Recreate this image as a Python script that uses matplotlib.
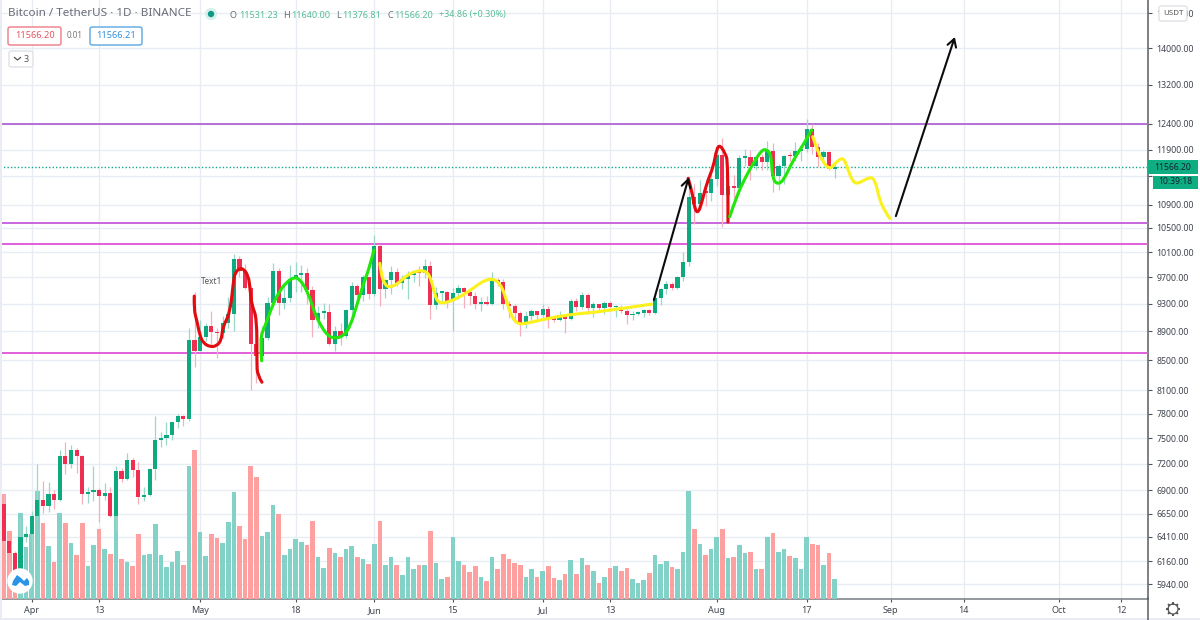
import numpy as np
import pandas as pd
import matplotlib
matplotlib.use("Agg")
import matplotlib.pyplot as plt
import matplotlib.dates as mdates
from matplotlib.patches import FancyBboxPatch, Circle, Polygon, Rectangle, PathPatch
from matplotlib.path import Path
from matplotlib.ticker import FixedLocator, FuncFormatter, NullLocator

plt.rcParams['font.family'] = ['Noto Sans', 'DejaVu Sans']

start_date = '2020-03-27'
opens = [6750,6360,6240,5880,6410,6440,6620,6795,6735,6860,6790,7290,7195,7365,7285,6860,6880,6910,6840,6870,
         6620,7115,7030,7250,7125,6830,6855,7135,7480,7505,7540,7695,7775,7735,8780,8620,8825,8970,8890,8870,
         9025,9145,9985,9800,9540,8720,8560,8810,9310,9795,9315,9380,9680,9735,9775,9510,9065,9170,9180,8720,
         8900,8840,9205,9575,9430,9700,9450,10200,9520,9665,9790,9620,9670,9745,9780,9770,9885,9280,9465,9475,
         9340,9455,9540,9480,9410,9290,9330,9300,9650,9630,9290,9260,9160,9010,9115,9190,9135,9230,9085,9060,
         9135,9070,9340,9255,9435,9235,9290,9235,9305,9245,9255,9195,9130,9155,9170,9210,9160,9390,9520,9600,
         9535,9700,9935,11030,10905,11115,11105,11350,11800,11070,11220,11190,11745,11760,11595,11755,11675,11880,11410,11585,
         11785,11770,11865,11910,12300,11950,11755,11855,11531.23]
highs = [6860,6370,6260,6600,6520,6680,7200,7000,6990,6910,7360,7450,7420,7380,7300,6940,7180,6930,6980,6940,
         7170,7150,7320,7270,7220,6940,7150,7770,7580,7700,7700,7800,7780,8950,9470,9060,9015,9200,8950,9120,
         9395,10067,10035,9915,9575,9170,8980,9400,9930,9845,9580,9890,9950,9900,9840,9570,9270,9310,9300,8975,
         9020,9225,9625,9605,9740,9700,10380,10230,9680,9880,9855,9735,9800,9800,9880,9990,9965,9560,9490,9495,
         9540,9580,9560,9490,9480,9395,9415,9780,9690,9680,9340,9300,9200,9190,9230,9200,9290,9270,9125,9195,
         9145,9375,9380,9480,9460,9320,9300,9345,9345,9280,9275,9230,9190,9200,9225,9220,9430,9540,9650,9625,
         9730,10110,11400,11270,11340,11170,11450,11860,12125,11475,11425,11790,11915,11900,11805,11810,12070,12025,11630,11790,
         11850,12050,11935,12490,12400,12020,11885,11880,11640.00]
lows = [6320,6060,5870,5860,6350,6150,6580,6660,6670,6700,6780,7080,7150,7100,6750,6760,6780,6560,6800,6610,
        6470,6990,7020,7050,6750,6780,6835,7020,7400,7420,7480,7620,7650,7710,8400,8620,8760,8700,8530,8800,
        8940,8900,9700,9520,8100,8200,8520,8780,9260,9130,9220,9330,9470,9475,9300,8815,8940,9080,8700,8630,
        8700,8810,9110,9330,9340,9375,9420,9266,9390,9450,9570,9530,9375,9630,9570,9690,9080,9230,9330,9240,
        8900,9375,9240,9280,9220,9200,9280,9280,9575,9220,9090,9050,8830,8940,9030,9070,9080,8940,9040,9050,
        8880,9055,9200,9230,9150,9110,9190,9150,9200,9110,9160,9000,9060,9135,9100,9130,9145,9280,9450,9510,
        9530,9650,9880,10560,10830,10870,10960,11220,10518,10950,11015,11090,11590,11330,11520,11520,11520,11125,11150,11270,
        11680,11680,11690,11850,11825,11570,11670,11510,11376.81]
closes = [6360,6240,5880,6410,6440,6620,6795,6735,6860,6790,7290,7195,7365,7285,6860,6880,6910,6840,6870,6620,
          7115,7030,7250,7125,6830,6855,7135,7480,7505,7540,7695,7775,7735,8780,8620,8825,8970,8890,8870,9025,
          9145,9985,9800,9540,8720,8560,8810,9310,9795,9315,9380,9680,9735,9775,9510,9065,9170,9180,8720,8900,
          8840,9205,9575,9430,9700,9450,10200,9520,9665,9790,9620,9670,9745,9780,9770,9885,9280,9465,9475,9340,
          9455,9540,9480,9410,9290,9330,9300,9650,9630,9290,9260,9160,9010,9115,9190,9135,9230,9085,9060,9135,
          9070,9340,9255,9435,9235,9290,9235,9305,9245,9255,9195,9130,9155,9170,9210,9160,9390,9520,9600,9535,
          9700,9935,11030,10905,11105,11105,11350,11800,11070,11220,11190,11745,11760,11595,11755,11675,11880,11410,11585,11785,
          11770,11865,11910,12300,11950,11755,11855,11531,11566.20]
volumes = [105,68,45,86,52,65,108,76,53,37,86,76,56,44,76,33,54,70,50,45,
           90,40,37,33,65,44,45,75,44,32,37,48,34,133,149,67,43,65,61,56,
           77,107,73,60,133,122,63,67,94,85,44,50,60,57,54,78,42,31,51,46,
           42,50,53,42,40,35,55,78,34,42,34,24,42,30,34,34,68,36,20,22,
           62,38,34,27,33,22,18,42,30,45,40,36,34,22,30,22,28,33,21,19,
           25,39,25,41,34,28,16,22,31,33,28,31,20,16,19,26,44,35,38,32,
           30,47,108,70,55,44,50,62,70,41,42,54,46,47,30,30,62,66,47,50,
           43,41,30,62,55,54,34,46,20]

price_ticks = [14800,14000,13200,12400,11900,11400,10900,10500,10100,9700,9300,8900,8500,8100,7800,7500,7200,6900,6650,6410,6160,5940]
hidden_price_labels = [11400]
date_ticks = ['2020-04-01','2020-04-13','2020-05-01','2020-05-18','2020-06-01','2020-06-15','2020-07-01','2020-07-13',
              '2020-08-01','2020-08-17','2020-09-01','2020-09-14','2020-10-01','2020-10-12']
date_labels = ['Apr','13','May','18','Jun','15','Jul','13','Aug','17','Sep','14','Oct','12']
level_prices = [12388, 10585, 10226, 8599]
level_colors = ['#b56fd6', '#c867dc', '#e05fd8', '#e05fd8']
last_price = 11566.20

# Freehand drawings: days after 1 Apr 2020, price
red1_days = [28.95,28.9,29.4,29.97,30.6,31.7,32.9,33.8,34.0,35.3,35.9,36.2,37.4,38.6,38.9,39.2,40.1,40.1,40.2,41.0]
red1_prices = [9415,9206,9060,8831,8733,8682,8691,8775,8959,9161,9613,9784,9862,9735,9506,9280,9089,8458,8297,8204]
green1_days = [40.95,40.65,41.5,42.7,43.9,45.4,46.9,47.8,48.65,49.55,50.4,51.6,52.8,54.0,55.5,56.7,57.9,59.0,60.2,60.95]
green1_prices = [8490,8803,8964,9236,9460,9632,9710,9659,9556,9385,9161,8964,8831,8799,8831,8964,9280,9582,9867,10134]
yellow1_days = [62.0,62.2,62.9,63.8,65.3,66.8,68.55,70.3,71.2,71.8,72.4,73.9,76.3,78.6,80.4,82.1,83.4,84.3,85.2,86.4,88.1,90.5,94.1,97.6,101.2,110.4]
yellow1_prices = [9921,9763,9582,9546,9608,9735,9804,9804,9659,9429,9314,9314,9404,9531,9647,9685,9608,9429,9157,9002,9012,9060,9118,9157,9181,9295]
red2_days = [116.9,117.5,118.1,118.7,119.3,120.2,121.4,122.0,122.6,123.5,124.0,124.0]
red2_prices = [11365,11184,10804,10757,10920,11274,11578,11924,11987,11829,11672,10600]
green2_days = [124.3,125.5,127.0,128.5,130.0,130.9,131.7,131.9,132.6,133.8,135.6,137.4,138.9]
green2_prices = [10689,11036,11365,11641,11892,11905,11798,11395,11262,11304,11703,11987,12279]
yellow2_days = [139.1,139.8,140.7,142.1,143.3,144.5,145.1,146.3,147.5,149.3,150.2,151.0,152.0,152.8]
yellow2_prices = [12148,11924,11703,11518,11672,11753,11610,11274,11285,11395,11335,10978,10775,10661]
arrow1_days = [110.8,117.0]
arrow1_prices = [9355,11380]
arrow2_days = [153.9,164.4]
arrow2_prices = [10700,14249]

UP, DOWN = '#0fa97f', '#ee2f52'
VUP, VDOWN = '#82d2c8', '#ffa0a0'
GRID = '#e8edf3'
INK = '#3f444e'

fig = plt.figure(figsize=(12, 6.2), dpi=100, facecolor='white')
rect = [0, 21.5/620, 1148/1200, 598.5/620]
ax = fig.add_axes(rect, zorder=0)
vol_ax = fig.add_axes(rect, zorder=1, sharex=ax)
price_ax = fig.add_axes(rect, zorder=2, sharex=ax, sharey=ax)

origin = mdates.date2num(pd.Timestamp('2020-04-01'))
dates = mdates.date2num(pd.date_range(start_date, periods=len(closes)))
o, h, l, c = map(np.array, (opens, highs, lows, closes))
up = c >= o

ax.set_yscale('log')
ax.set_ylim(5805, 15117)
ax.set_xlim(origin - 5.645, origin + 198.8)
ax.yaxis.set_major_locator(FixedLocator(price_ticks))
ax.yaxis.set_minor_locator(NullLocator())
ax.yaxis.set_major_formatter(FuncFormatter(lambda v, _: '' if round(v) in hidden_price_labels else f'{v:.2f}'))
ax.yaxis.tick_right()
ax.set_xticks(mdates.date2num(pd.to_datetime(date_ticks)))
ax.set_xticklabels(date_labels)
ax.tick_params(axis='y', length=3, width=0.8, color='#555', labelcolor=INK, labelsize=6.3, pad=3)
ax.tick_params(axis='x', length=2.2, width=0.8, color='#555', labelcolor=INK, labelsize=6.5, pad=3)
ax.grid(True, color=GRID, lw=1)
ax.set_axisbelow(True)
for s in ('top', 'left'):
    ax.spines[s].set_visible(False)
ax.spines['right'].set_color('#5a5d64')
ax.spines['bottom'].set_color('#777a80')
ax.spines['right'].set_linewidth(1.1)
ax.spines['bottom'].set_linewidth(1.1)

vol_ax.set_ylim(0, 598.5)
vol_ax.axis('off')
vol_ax.patch.set_visible(False)
vol_ax.bar(dates, volumes, width=0.82, color=[VUP if u else VDOWN for u in up], linewidth=0)

price_ax.axis('off')
price_ax.patch.set_visible(False)
for p, col in zip(level_prices, level_colors):
    price_ax.axhline(p, color=col, lw=1.4, zorder=1)
price_ax.axhline(last_price, color='#14a98a', lw=1, ls=(0, (1, 1.5)), zorder=1)

price_ax.vlines(dates[up], l[up], h[up], color='#9cd8c9', lw=0.9, zorder=2)
price_ax.vlines(dates[~up], l[~up], h[~up], color='#f6b0bd', lw=0.9, zorder=2)
bottoms = np.minimum(o, c)
tops = np.maximum(o, c)
min_tops = np.maximum(tops, bottoms * 1.0025)
price_ax.bar(dates, min_tops - bottoms, bottom=bottoms, width=0.74,
             color=[UP if u else DOWN for u in up], linewidth=0, zorder=3)


def curve(days, prices, color):
    """Smooth freehand stroke: quadratic segments through the read points."""
    x = origin + np.array(days)
    y = np.array(prices, dtype=float)
    verts = [(x[0], y[0])]
    codes = [Path.MOVETO]
    for i in range(1, len(x) - 1):
        end = (x[-1], y[-1]) if i == len(x) - 2 else ((x[i] + x[i + 1]) / 2, np.sqrt(y[i] * y[i + 1]))
        verts += [(x[i], y[i]), end]
        codes += [Path.CURVE3, Path.CURVE3]
    price_ax.add_patch(PathPatch(Path(verts, codes), fill=False, ec=color, lw=2.25, zorder=5,
                                 capstyle='round', joinstyle='round'))


curve(red1_days, red1_prices, '#e00c10')
curve(green1_days, green1_prices, '#22e60c')
curve(yellow1_days, yellow1_prices, '#fbf11e')
curve(red2_days, red2_prices, '#e00c10')
curve(green2_days, green2_prices, '#22e60c')
curve(yellow2_days, yellow2_prices, '#fbf11e')

for dd, pp in ((arrow1_days, arrow1_prices), (arrow2_days, arrow2_prices)):
    price_ax.annotate('', xy=(origin + dd[1], pp[1]), xytext=(origin + dd[0], pp[0]), zorder=6,
                      arrowprops=dict(arrowstyle='->,head_length=0.55,head_width=0.32', color='#0c0c0c',
                                      lw=1.5, shrinkA=0, shrinkB=0))

price_ax.text(origin + 32.1, 9642, 'Text1', fontsize=5.9, color='#555', ha='center', va='center', zorder=6)

# Screen furniture in pixel coordinates
ui = fig.add_axes([0, 0, 1, 1], zorder=3)
ui.set_xlim(0, 1200)
ui.set_ylim(620, 0)
ui.axis('off')
ui.patch.set_visible(False)

ui.add_patch(Rectangle((0, 0), 1.8, 620, color='#e9ecf2', lw=0))
ui.add_patch(Rectangle((0, 618), 1200, 2, color='#e9ecf2', lw=0))
ui.plot([1148, 1148], [598, 620], color='#5a5d64', lw=1.1)


def box(x0, y0, x1, y1, ec, fc='white', lw=1.0, r=2):
    ui.add_patch(FancyBboxPatch((x0 + r, y0 + r), x1 - x0 - 2 * r, y1 - y0 - 2 * r,
                                boxstyle=f'round,pad={r},rounding_size={r}', ec=ec, fc=fc, lw=lw))


def tx(x, y, s, color, size=6.4, ha='left'):
    ui.text(x, y, s, color=color, fontsize=size, ha=ha, va='center')


HEAD = '#6a6d78'
GREEN = '#58bd97'
tx(8, 14, 'Bitcoin / TetherUS · 1D · BINANCE', HEAD, 8.4)
ui.add_patch(Circle((211, 14), 6.2, color='#d8f1ec', lw=0))
ui.add_patch(Circle((211, 14), 3.2, color='#0b9a86', lw=0))
for x, s in ((230, 'O'), (283, 'H'), (336, 'L'), (387, 'C')):
    tx(x, 15, s, HEAD, 6.5)
for x, s in ((239, '11531.23'), (291, '11640.00'), (342.5, '11376.81'), (394, '11566.20'), (439, '+34.86 (+0.30%)')):
    tx(x, 15, s, GREEN, 6.5)

box(8, 27, 61, 45, '#ef7a84')
tx(34.5, 36, '11566.20', '#e8525f', 6.6, 'center')
tx(75, 36, '0.01', '#777', 5.8, 'center')
box(90, 27, 142, 45, '#5aa7e0')
tx(116, 36, '11566.21', '#2f8fdc', 6.6, 'center')
box(9, 51, 33, 67, '#dfe2e8')
ui.plot([14.5, 17.5, 20.5], [57.5, 60, 57.5], color='#555', lw=0.9)
tx(26.5, 59, '3', '#555', 6.4, 'center')

ui.add_patch(Circle((20, 581), 12.7, color='white', lw=0))
ui.add_patch(Polygon([(12, 585), (13, 581), (17, 575), (21, 578), (24, 581), (27, 578), (29, 581), (29, 585),
                      (25, 586), (20, 582), (16, 586)], closed=True, color='#2a94e6', lw=0))

box(1159, 6, 1187, 21, '#dfe2e8')
tx(1173, 13.5, 'USDT', '#555', 5.7, 'center')
ui.add_patch(Rectangle((1148, 160), 50, 14, color='#0fae82', lw=0))
tx(1173, 167, '11566.20', '#123', 6.2, 'center')
ui.add_patch(Rectangle((1153, 175.5), 45, 13, color='#0fae82', lw=0))
tx(1175.5, 182, '10:39:18', '#123', 6.2, 'center')

# Settings gear
for a in np.arange(8) * np.pi / 4:
    ui.plot([1173 + 4.5 * np.cos(a), 1173 + 7 * np.cos(a)], [609 + 4.5 * np.sin(a), 609 + 7 * np.sin(a)],
            color='#555', lw=1.4, solid_capstyle='butt')
ui.add_patch(Circle((1173, 609), 5, fc='white', ec='#555', lw=0.9))

fig.savefig('out.png', dpi=100)
